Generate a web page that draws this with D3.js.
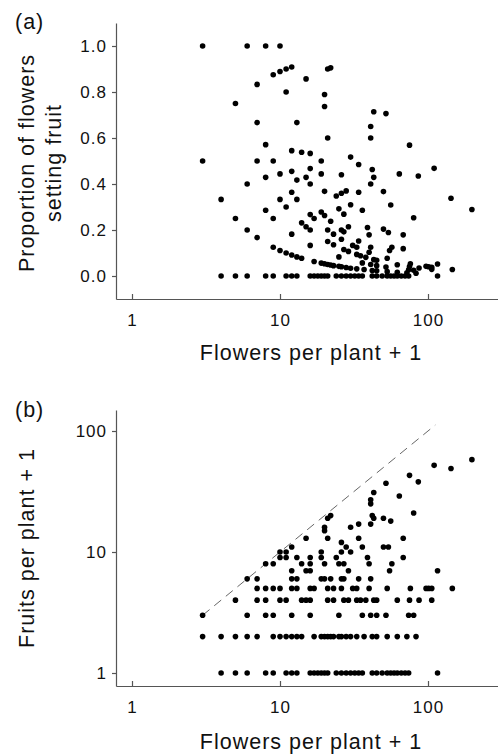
<!DOCTYPE html>
<html>
<head>
<meta charset="utf-8">
<script src="https://cdn.jsdelivr.net/npm/d3@7"></script>
<style>
  body { margin: 0; background: #fff; }
  svg { display: block; font-family: "Liberation Sans", Arial, sans-serif; }
  .axis path, .axis line { stroke: #555; stroke-width: 1.2; }
  .axis text { font-size: 17px; letter-spacing: 1px; fill: #111; font-family: "Liberation Sans", Arial, sans-serif; }
  .title { font-size: 21.5px; letter-spacing: 1px; fill: #111; }
  .dot { fill: #000; }
</style>
</head>
<body>
<div id="chart"></div>
<script>
// ---- panel (a): proportion of flowers setting fruit vs flowers per plant + 1
// plants that set no fruit (proportion 0)
const zeroFlowers = [4, 5, 6, 8, 9, 11, 12, 13, 16, 17, 18, 19, 20, 21, 24, 26, 28, 30, 32, 34,
  36, 42, 45, 49, 53, 56, 59, 62, 66, 70, 74, 116];
// the other plants
const propFlowers = [
  3, 4, 5, 6, 7, 9, 10, 11, 12, 13, 14, 17, 19, 20, 21, 22, 23, 25, 26, 28, 30, 33, 37, 42, 45, 53, 62, 72, 83,
  3, 6, 8, 9, 12, 16, 25, 36, 41, 45, 52, 74, 80,
  5, 7, 8, 10, 11, 14, 15, 16, 21, 23, 27, 29, 33, 35, 38, 43, 45, 62, 75, 87, 106,
  7, 8, 9, 10, 12, 13, 16, 17, 21, 23, 26, 31, 33, 40, 53, 76, 97, 101, 106, 146,
  6, 7, 12, 13, 19, 20, 22, 26, 27, 34, 41,
  12, 15, 16, 29, 55, 116,
  8, 9, 14, 16, 20, 25, 27, 40, 57,
  10, 11, 13, 16, 19, 24, 39, 68,
  10, 11, 19, 26, 30,
  12, 28, 36, 50, 54,
  26, 15, 21, 34, 68,
  20, 20, 30, 34, 41, 56, 21, 43, 50, 22, 42, 80, 41, 41, 64, 43, 52, 86, 75, 143, 110, 198
];
const propValues = [
  .5, .333, .25, .2, .167, .125, .111, .1, .091, .083, .077, .063, .056, .053, .05, .048, .045, .042, .04, .037, .034, .031, .028, .024, .023, .019, .016, .014, .012,
  1, .4, .286, .25, .182, .133, .083, .057, .05, .045, .039, .027, .025,
  .75, .5, .429, .333, .3, .231, .214, .2, .15, .136, .115, .107, .094, .088, .081, .071, .068, .049, .041, .035, .029,
  .667, .571, .5, .444, .364, .333, .267, .25, .2, .182, .16, .133, .125, .103, .077, .053, .042, .04, .038, .028,
  1, .833, .455, .417, .278, .263, .238, .2, .192, .152, .125,
  .545, .429, .4, .214, .111, .052,
  1, .875, .538, .467, .368, .292, .269, .179, .125,
  .889, .8, .667, .533, .444, .348, .211, .119,
  1, .9, .5, .36, .31,
  .909, .37, .286, .204, .189,
  .44, .857, .6, .364, .179,
  .737, .789, .517, .485, .4, .309, .9, .429, .367, .905, .463, .253, .6, .65, .444, .714, .706, .435, .569, .338, .468, .289
];
const propTicks = [0, 0.2, 0.4, 0.6, 0.8, 1.0];

// ---- panel (b): fruits per plant + 1 vs flowers per plant + 1
// the low fruit counts sit in rows, one list of flower values per row
const fruitRows = [1, 2, 3, 4, 5, 6, 7, 8, 9, 10, 11, 12, 13];
const flowersByRow = [
  [4, 5, 6, 8, 9, 11, 12, 13, 16, 17, 18, 19, 20, 21, 24, 26, 28, 30, 32, 34, 36, 42, 45, 49, 53, 56, 59, 62, 66, 70, 74, 116],
  [3, 4, 5, 6, 7, 9, 10, 11, 12, 13, 14, 17, 19, 20, 21, 22, 23, 25, 26, 28, 30, 33, 37, 42, 45, 53, 62, 72, 83],
  [3, 6, 8, 9, 12, 16, 25, 36, 41, 45, 52, 74, 80],
  [5, 7, 8, 10, 11, 14, 15, 16, 21, 23, 27, 29, 33, 35, 38, 43, 45, 62, 75, 87, 106],
  [7, 8, 9, 10, 12, 13, 16, 17, 21, 23, 26, 31, 33, 40, 53, 76, 97, 101, 106, 146],
  [6, 7, 12, 13, 19, 20, 22, 26, 27, 34, 41],
  [12, 15, 16, 29, 55, 116],
  [8, 9, 14, 16, 20, 25, 27, 40, 57],
  [10, 11, 13, 16, 19, 24, 39, 68],
  [10, 11, 19, 26, 30],
  [12, 28, 36, 50, 54],
  [26],
  [15, 21, 34, 68]
];
// the scattered plants above those rows
const upperFlowers = [20, 20, 30, 34, 41, 56, 21, 43, 50, 22, 42, 80, 41, 41, 64, 43, 52, 86, 75, 143, 110, 198];
const upperFruits = [15, 16, 16, 17, 17, 18, 19, 19, 19, 20, 20, 21, 25, 27, 29, 31, 37, 38, 43, 49, 52, 58];
const fruitTicks = [1, 10, 100];

// 1:1 line (every flower sets fruit)
const oneToOne = [3, 112];
const flowerTicks = [1, 10, 100];

const W = 498, H = 756;
const axisLeft = 116, axisRight = 498;

const svg = d3.select('#chart').append('svg')
  .attr('width', W)
  .attr('height', H);

// shared log x scale: 1 at 132px, 100 at 428px, stretched out to the axis ends
const x = d3.scaleLog().domain([1, 100]).range([132, 428]);
x.domain([x.invert(axisLeft), x.invert(axisRight)]).range([axisLeft, axisRight]);

function xAxis(g, y0) {
  g.attr('class', 'axis')
    .attr('transform', `translate(0,${y0})`)
    .call(d3.axisBottom(x)
      .tickValues(flowerTicks)
      .tickFormat(d3.format('d'))
      .tickSizeInner(-5)
      .tickSizeOuter(0)
      .tickPadding(15));
}

function dots(g, data) {
  g.selectAll('circle')
      .data(data)
    .enter().append('circle')
      .attr('class', 'dot')
      .attr('cx', function(d) { return d[0]; })
      .attr('cy', function(d) { return d[1]; })
      .attr('r', 2.8);
}

// ---------------- panel (a)
const yA = d3.scaleLinear().domain([0, 1]).range([276, 46]);
yA.domain([yA.invert(299), yA.invert(23)]).range([299, 23]);

const gA = svg.append('g');
gA.append('g').call(xAxis, 299);
gA.append('g')
  .attr('class', 'axis')
  .attr('transform', `translate(${axisLeft},0)`)
  .call(d3.axisLeft(yA)
    .tickValues(propTicks)
    .tickFormat(d3.format('.1f'))
    .tickSizeInner(4)
    .tickSizeOuter(0)
    .tickPadding(5));

let aData = zeroFlowers.map(function(f) { return [x(f), yA(0)]; });
propFlowers.forEach(function(f, i) { aData.push([x(f), yA(propValues[i])]); });
dots(gA.append('g'), aData);

gA.append('text').attr('class', 'title').attr('x', 15).attr('y', 29).text('(a)');
gA.append('text').attr('class', 'title')
  .attr('text-anchor', 'middle')
  .attr('x', 311).attr('y', 360)
  .text('Flowers per plant + 1');
gA.append('text').attr('class', 'title')
  .attr('text-anchor', 'middle')
  .attr('transform', 'translate(34,163) rotate(-90)')
  .text('Proportion of flowers');
gA.append('text').attr('class', 'title')
  .attr('text-anchor', 'middle')
  .attr('transform', 'translate(61,163) rotate(-90)')
  .text('setting fruit');

// ---------------- panel (b)
const yB = d3.scaleLog().domain([1, 100]).range([673, 431]);
yB.domain([yB.invert(686), yB.invert(410)]).range([686, 410]);

const gB = svg.append('g');
gB.append('g').call(xAxis, 686);
gB.append('g')
  .attr('class', 'axis')
  .attr('transform', `translate(${axisLeft},0)`)
  .call(d3.axisLeft(yB)
    .tickValues(fruitTicks)
    .tickFormat(d3.format('d'))
    .tickSizeInner(4)
    .tickSizeOuter(0)
    .tickPadding(5));

gB.append('line')
  .attr('x1', x(oneToOne[0])).attr('y1', yB(oneToOne[0]))
  .attr('x2', x(oneToOne[1])).attr('y2', yB(oneToOne[1]))
  .attr('stroke', '#555')
  .attr('stroke-width', 0.9)
  .attr('stroke-dasharray', '9,6');

let bData = [];
fruitRows.forEach(function(r, i) {
  flowersByRow[i].forEach(function(f) { bData.push([x(f), yB(r)]); });
});
upperFlowers.forEach(function(f, i) { bData.push([x(f), yB(upperFruits[i])]); });
dots(gB.append('g'), bData);

gB.append('text').attr('class', 'title').attr('x', 15).attr('y', 417).text('(b)');
gB.append('text').attr('class', 'title')
  .attr('text-anchor', 'middle')
  .attr('x', 311).attr('y', 749)
  .text('Flowers per plant + 1');
gB.append('text').attr('class', 'title')
  .attr('text-anchor', 'middle')
  .attr('transform', 'translate(34,548) rotate(-90)')
  .text('Fruits per plant + 1');
</script>
</body>
</html>
